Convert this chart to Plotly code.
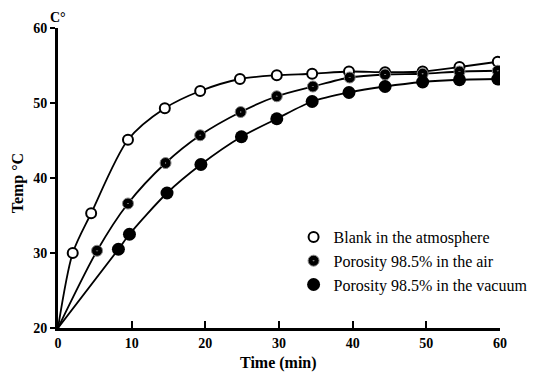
import plotly.graph_objects as go

# Data (time in min, temperature in °C); origin (0, 20) is where curves start
blank_t = [0, 2.0, 4.5, 9.5, 14.5, 19.3, 24.7, 29.7, 34.5, 39.5, 44.4, 49.5, 54.5, 59.7]
blank_T = [20, 30.0, 35.3, 45.1, 49.3, 51.6, 53.2, 53.7, 53.9, 54.2, 54.1, 54.2, 54.8, 55.5]

air_t = [0, 5.3, 9.5, 14.6, 19.3, 24.8, 29.7, 34.6, 39.6, 44.4, 49.5, 54.5, 59.7]
air_T = [20, 30.3, 36.6, 42.0, 45.7, 48.8, 50.9, 52.2, 53.4, 53.8, 53.9, 54.2, 54.3]

vac_t = [0, 8.2, 9.7, 14.8, 19.4, 24.9, 29.7, 34.5, 39.5, 44.4, 49.5, 54.5, 59.7]
vac_T = [20, 30.5, 32.5, 38.0, 41.8, 45.5, 47.9, 50.2, 51.4, 52.2, 52.8, 53.1, 53.2]

x_ticks = [0, 10, 20, 30, 40, 50, 60]
y_ticks = [20, 30, 40, 50, 60]

names = ["Blank in the atmosphere",
         "Porosity 98.5% in the air",
         "Porosity 98.5% in the vacuum"]

FONT = "Liberation Serif"
fig = go.Figure()

# smooth curves (no markers)
for t, T in [(blank_t, blank_T), (air_t, air_T), (vac_t, vac_T)]:
    fig.add_trace(go.Scatter(x=t, y=T, mode="lines",
                             line=dict(color="black", width=1.8, shape="spline", smoothing=0.8),
                             showlegend=False, hoverinfo="skip"))

# markers
fig.add_trace(go.Scatter(x=blank_t[1:], y=blank_T[1:], mode="markers", name=names[0],
                         marker=dict(symbol="circle", size=10, color="white", line=dict(color="black", width=2))))
fig.add_trace(go.Scatter(x=air_t[1:], y=air_T[1:], mode="markers", name=names[1],
                         marker=dict(symbol="circle-dot", size=11, color="black", line=dict(color="#888", width=1))))
fig.add_trace(go.Scatter(x=vac_t[1:], y=vac_T[1:], mode="markers", name=names[2],
                         marker=dict(symbol="circle", size=13, color="black", line=dict(color="black", width=0))))

fig.update_layout(
    width=529, height=368,
    margin=dict(l=50, r=37, t=20, b=48, autoexpand=False),
    paper_bgcolor="white", plot_bgcolor="white",
    font=dict(family=FONT, color="black", size=13),
    showlegend=True,
    legend=dict(x=0.533, y=0.36, xanchor="left", yanchor="top", bgcolor="rgba(0,0,0,0)",
                font=dict(family=FONT, size=16, color="black"), itemsizing="trace", tracegroupgap=0,
                itemwidth=30),
    xaxis=dict(range=[0, 60], tickvals=x_ticks, ticktext=[str(v) for v in x_ticks],
               showgrid=False, zeroline=False, showline=True, linecolor="black", linewidth=3,
               ticks="inside", ticklen=7, tickwidth=2, tickcolor="black",
               tickfont=dict(family=FONT, size=14, color="black", weight="bold")),
    yaxis=dict(range=[20, 60], tickvals=y_ticks, ticktext=[str(v) for v in y_ticks],
               showgrid=False, zeroline=False, showline=True, linecolor="black", linewidth=3,
               ticks="outside", ticklen=5, tickwidth=2, tickcolor="black",
               tickfont=dict(family=FONT, size=14, color="black", weight="bold")),
    annotations=[
        dict(text="<b>C°</b>", x=0.0, y=1.035, xref="paper", yref="paper", showarrow=False,
             font=dict(family=FONT, size=14, color="black"), xanchor="center", yanchor="middle"),
        dict(text="<b>Temp °C</b>", x=-0.09, y=0.483, xref="paper", yref="paper", showarrow=False,
             textangle=-90, font=dict(family=FONT, size=16, color="black"), xanchor="center", yanchor="middle"),
        dict(text="<b>Time (min)</b>", x=0.498, y=-0.117, xref="paper", yref="paper", showarrow=False,
             font=dict(family=FONT, size=16, color="black"), xanchor="center", yanchor="middle"),
    ],
)

fig.write_html("out.html")
